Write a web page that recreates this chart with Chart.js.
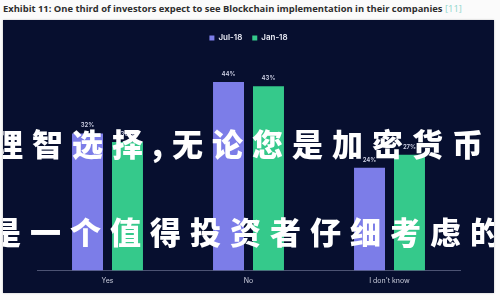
<!DOCTYPE html>
<html>
<head>
<meta charset="utf-8">
<script src="https://cdn.jsdelivr.net/npm/chart.js@4"></script>
<style>
  html, body { margin: 0; padding: 0; background: #fbfbfb; width: 500px; height: 300px; overflow: hidden; }
  #title { position: absolute; left: 3px; top: 2px; font: 700 9.4px "Open Sans", sans-serif; color: #2e2e2e; white-space: nowrap; }
  #title .ref { color: #8fd6cc; font-weight: 400; }
  #panel { position: absolute; left: 3px; top: 20px; width: 491px; height: 273px; background: #070f2f; overflow: hidden;
           box-shadow: 0 0 2px rgba(0,0,0,0.25); }
  #panel canvas { position: absolute; left: 0; top: 0; }
  .overlay { position: absolute; white-space: nowrap; color: #fff; font: 900 31px "Noto Sans CJK SC", sans-serif;
             letter-spacing: 9px; line-height: 1; pointer-events: none; }
</style>
</head>
<body>
<div id="title">Exhibit 11: One third of investors expect to see Blockchain implementation in their companies <span class="ref">[11]</span></div>
<div id="panel">
  <canvas id="chart" width="491" height="273"></canvas>
  <div class="overlay" style="left:-11px; top:107px;">理智选择,无论您是加密货币</div>
  <div class="overlay" style="left:-13px; top:195px;">是一个值得投资者仔细考虑的</div>
</div>
<script>
const categories = ['Yes', 'No', "I don't know"];
const seriesNames = ['Jul-18', 'Jan-18'];
const jul18 = [32, 44, 24];
const jan18 = [30, 43, 27];
const seriesColors = ['#7c7de8', '#35c98b'];

// draws the "44%" style labels above each bar
const valueLabels = {
  id: 'valueLabels',
  afterDatasetsDraw(chart) {
    const { ctx } = chart;
    ctx.save();
    ctx.font = '600 6px Inter, sans-serif';
    ctx.fillStyle = '#cfd2e6';
    ctx.textAlign = 'center';
    ctx.textBaseline = 'bottom';
    chart.data.datasets.forEach((ds, i) => {
      chart.getDatasetMeta(i).data.forEach((bar, j) => {
        ctx.fillText(ds.data[j] + '%', bar.x, bar.y - 5);
      });
    });
    ctx.restore();
  },
};

new Chart(document.getElementById('chart'), {
  type: 'bar',
  data: {
    labels: categories,
    datasets: [
      { label: seriesNames[0], data: jul18, backgroundColor: seriesColors[0] },
      { label: seriesNames[1], data: jan18, backgroundColor: seriesColors[1] },
    ],
  },
  options: {
    responsive: false,
    animation: false,
    categoryPercentage: 0.567,
    barPercentage: 0.775,
    layout: { padding: { left: 34, right: 34, top: 4, bottom: 2 } },
    plugins: {
      legend: {
        position: 'top',
        labels: {
          color: '#e8eaf4',
          font: { family: 'Inter', size: 8, weight: '600' },
          boxWidth: 5,
          boxHeight: 5,
          padding: 10,
        },
      },
      tooltip: { enabled: false },
    },
    scales: {
      x: {
        grid: { display: false, drawTicks: false },
        border: { display: true, color: '#4c5373', width: 1 },
        ticks: { color: '#c9ccdb', font: { family: 'Inter', size: 7 }, padding: 6 },
      },
      y: { display: false, min: 0, max: 51 },
    },
  },
  plugins: [valueLabels],
});
</script>
</body>
</html>
